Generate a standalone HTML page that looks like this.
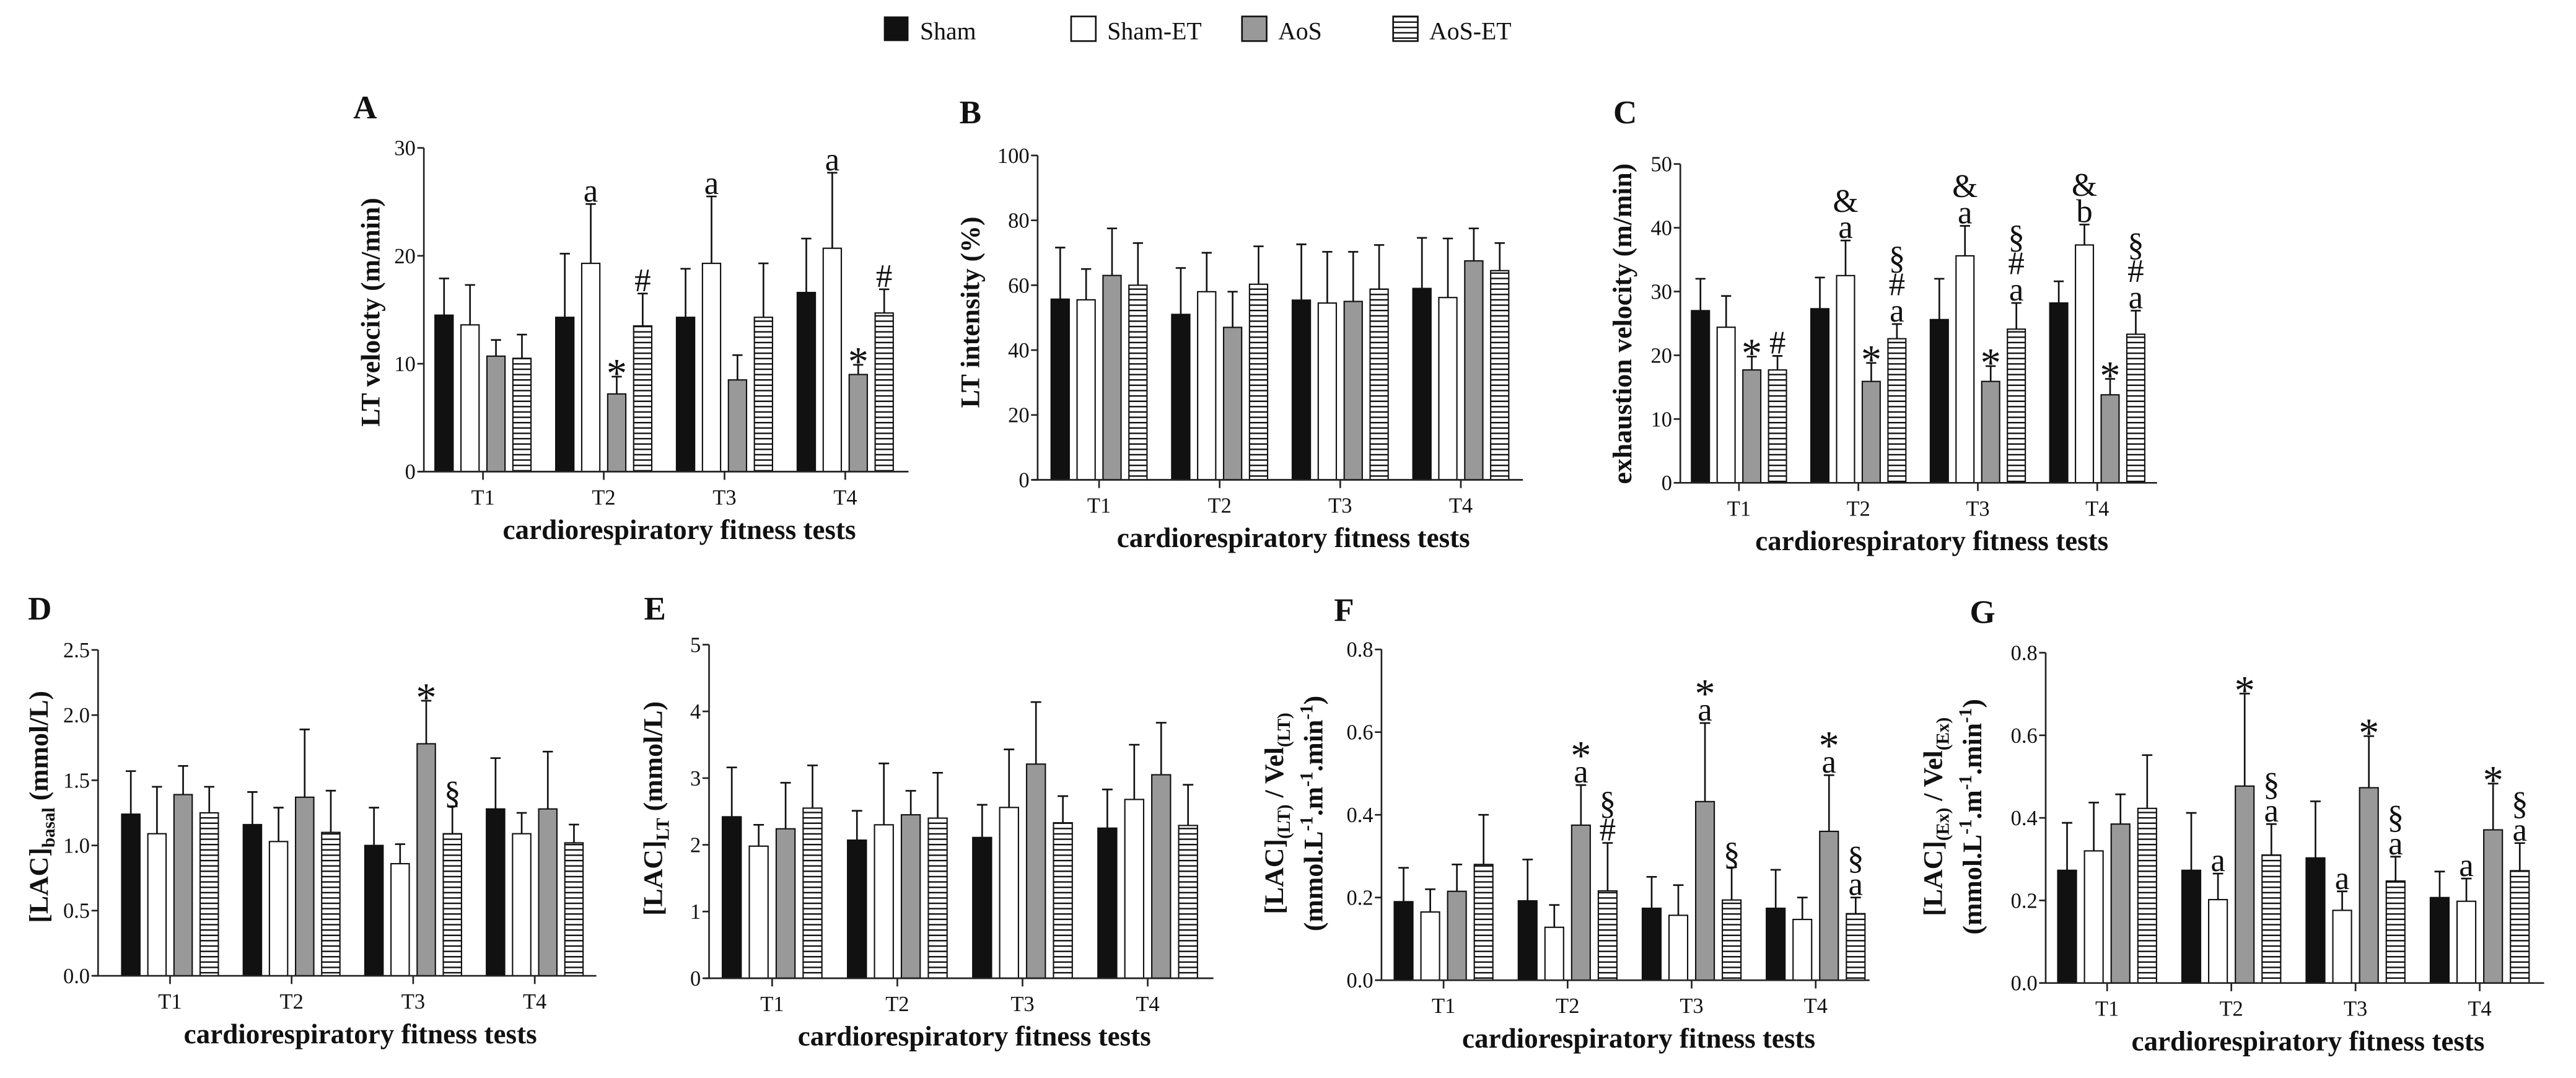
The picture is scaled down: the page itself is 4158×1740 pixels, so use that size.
<!DOCTYPE html>
<html><head><meta charset="utf-8"><style>
html,body{margin:0;padding:0;background:#fff;}
svg{display:block;}
text{font-family:"Liberation Serif","Times New Roman","DejaVu Serif",serif;fill:#111;}
</style></head><body>
<svg id="fig" width="4158" height="1740" viewBox="0 0 1568 656" preserveAspectRatio="none" font-family="Liberation Serif, DejaVu Serif, serif" xmlns="http://www.w3.org/2000/svg">
<defs>
<pattern id="hatch" patternUnits="userSpaceOnUse" width="6" height="3.25">
<rect width="6" height="3.25" fill="#fff"/><rect y="0" width="6" height="0.9" fill="#111"/>
</pattern>
</defs>
<g>
<rect x="538" y="10" width="15" height="15" fill="#111"/>
<text x="560" y="24" font-size="15">Sham</text>
<rect x="652" y="10" width="15" height="15" fill="#fff" stroke="#111"/>
<text x="674" y="24" font-size="15">Sham-ET</text>
<rect x="756" y="10" width="15" height="15" fill="#999" stroke="#111"/>
<text x="778" y="24" font-size="15">AoS</text>
<rect x="848" y="10" width="15" height="15" fill="url(#hatch)" stroke="#111"/>
<text x="870" y="24" font-size="15">AoS-ET</text>
</g>
</svg>
<script>
// ---- data ----
const categories = ['T1','T2','T3','T4'];
const seriesNames = ['Sham','Sham-ET','AoS','AoS-ET'];

const A_sham = [14.5,14.3,14.3,16.6], A_shamEt = [13.6,19.3,19.3,20.7], A_aos = [10.7,7.2,8.5,9.0], A_aosEt = [10.5,13.5,14.3,14.7];
const A_shamTop = [17.9,20.2,18.8,21.6], A_shamEtTop = [17.3,24.8,25.5,27.7], A_aosTop = [12.2,8.8,10.8,9.9], A_aosEtTop = [12.7,16.5,19.3,16.9];
const A_ticks = [0,10,20,30];
const A_tickLabels = ['0','10','20','30'];

const B_sham = [55.7,51,55.4,59], B_shamEt = [55.5,58,54.5,56.2], B_aos = [63,47,55,67.5], B_aosEt = [60,60.3,58.8,64.5];
const B_shamTop = [71.6,65.3,72.6,74.6], B_shamEtTop = [65,70,70.3,74.4], B_aosTop = [77.5,58,70.3,77.5], B_aosEtTop = [73,72,72.4,73];
const B_ticks = [0,20,40,60,80,100];
const B_tickLabels = ['0','20','40','60','80','100'];

const C_sham = [27,27.3,25.6,28.2], C_shamEt = [24.4,32.5,35.6,37.3], C_aos = [17.7,15.9,15.9,13.8], C_aosEt = [17.7,22.6,24.1,23.3];
const C_shamTop = [32,32.2,32,31.6], C_shamEtTop = [29.3,38,40.3,40.5], C_aosTop = [19.8,18.8,18.3,16.3], C_aosEtTop = [19.9,24.9,28.2,27];
const C_ticks = [0,10,20,30,40,50];
const C_tickLabels = ['0','10','20','30','40','50'];

const D_sham = [1.24,1.16,1.00,1.28], D_shamEt = [1.09,1.03,0.86,1.09], D_aos = [1.39,1.37,1.78,1.28], D_aosEt = [1.25,1.10,1.09,1.02];
const D_shamTop = [1.57,1.41,1.29,1.67], D_shamEtTop = [1.45,1.29,1.01,1.25], D_aosTop = [1.61,1.89,2.11,1.72], D_aosEtTop = [1.45,1.42,1.30,1.16];
const D_ticks = [0,0.5,1,1.5,2,2.5];
const D_tickLabels = ['0.0','0.5','1.0','1.5','2.0','2.5'];

const E_sham = [2.42,2.07,2.11,2.25], E_shamEt = [1.98,2.30,2.56,2.68], E_aos = [2.24,2.45,3.21,3.05], E_aosEt = [2.55,2.40,2.33,2.29];
const E_shamTop = [3.16,2.51,2.60,2.83], E_shamEtTop = [2.30,3.22,3.43,3.50], E_aosTop = [2.93,2.81,4.14,3.83], E_aosEtTop = [3.19,3.08,2.73,2.90];
const E_ticks = [0,1,2,3,4,5];
const E_tickLabels = ['0','1','2','3','4','5'];

const F_sham = [0.19,0.192,0.174,0.174], F_shamEt = [0.165,0.128,0.157,0.147], F_aos = [0.215,0.375,0.432,0.36], F_aosEt = [0.28,0.216,0.194,0.161];
const F_shamTop = [0.272,0.292,0.25,0.267], F_shamEtTop = [0.22,0.182,0.23,0.2], F_aosTop = [0.28,0.472,0.622,0.496], F_aosEtTop = [0.4,0.332,0.273,0.2];
const F_ticks = [0,0.2,0.4,0.6,0.8];
const F_tickLabels = ['0.0','0.2','0.4','0.6','0.8'];

const G_sham = [0.273,0.273,0.303,0.207], G_shamEt = [0.32,0.202,0.176,0.198], G_aos = [0.385,0.477,0.473,0.371], G_aosEt = [0.423,0.31,0.247,0.272];
const G_shamTop = [0.388,0.412,0.44,0.27], G_shamEtTop = [0.437,0.265,0.222,0.253], G_aosTop = [0.457,0.701,0.598,0.483], G_aosEtTop = [0.552,0.385,0.306,0.339];
const G_ticks = [0,0.2,0.4,0.6,0.8];
const G_tickLabels = ['0.0','0.2','0.4','0.6','0.8'];

// annotations: [group, series, labels bottom-to-top]
const A_ann = [[1,1,['a']],[1,2,['*']],[1,3,['#']],[2,1,['a']],[3,1,['a']],[3,2,['*']],[3,3,['#']]];
const B_ann = [];
const C_ann = [[0,2,['*']],[0,3,['#']],[1,1,['a','&']],[1,2,['*']],[1,3,['a','#','§']],[2,1,['a','&']],[2,2,['*']],[2,3,['a','#','§']],[3,1,['b','&']],[3,2,['*']],[3,3,['a','#','§']]];
const D_ann = [[2,2,['*']],[2,3,['§']]];
const E_ann = [];
const F_ann = [[1,2,['a','*']],[1,3,['#','§']],[2,2,['a','*']],[2,3,['§']],[3,2,['a','*']],[3,3,['a','§']]];
const G_ann = [[1,1,['a']],[1,2,['*']],[1,3,['a','§']],[2,1,['a']],[2,2,['*']],[2,3,['a','§']],[3,1,['a']],[3,2,['*']],[3,3,['a','§']]];

// ---- layout (pixel geometry, not data) ----
const layout = [
 {id:'A',lx:215,ly:72,ax:258,yTop:90,y0:287,max:30,t1:294,sp:73.5,end:553,means:[A_sham,A_shamEt,A_aos,A_aosEt],tops:[A_shamTop,A_shamEtTop,A_aosTop,A_aosEtTop],ticks:A_ticks,tl:A_tickLabels,ann:A_ann,title:[['LT velocity (m/min)']],tx:[231],ty:190},
 {id:'B',lx:584,ly:75,ax:631.6,yTop:94.6,y0:292,max:100,t1:669,sp:73.4,end:927,means:[B_sham,B_shamEt,B_aos,B_aosEt],tops:[B_shamTop,B_shamEtTop,B_aosTop,B_aosEtTop],ticks:B_ticks,tl:B_tickLabels,ann:B_ann,title:[['LT intensity (%)']],tx:[596],ty:190},
 {id:'C',lx:982,ly:75,ax:1022.8,yTop:99.8,y0:293.8,max:50,t1:1058.5,sp:72.7,end:1313,means:[C_sham,C_shamEt,C_aos,C_aosEt],tops:[C_shamTop,C_shamEtTop,C_aosTop,C_aosEtTop],ticks:C_ticks,tl:C_tickLabels,ann:C_ann,title:[['exhaustion velocity (m/min)']],tx:[993],ty:197},
 {id:'D',lx:17,ly:377,ax:59.7,yTop:395.5,y0:593.8,max:2.5,t1:103.5,sp:74,end:363,means:[D_sham,D_shamEt,D_aos,D_aosEt],tops:[D_shamTop,D_shamEtTop,D_aosTop,D_aosEtTop],ticks:D_ticks,tl:D_tickLabels,ann:D_ann,title:[['[LAC]',['basal','sub'],' (mmol/L)']],tx:[29],ty:491},
 {id:'E',lx:392,ly:377,ax:431.6,yTop:392.3,y0:595.3,max:5,t1:470,sp:76.2,end:738.6,means:[E_sham,E_shamEt,E_aos,E_aosEt],tops:[E_shamTop,E_shamEtTop,E_aosTop,E_aosEtTop],ticks:E_ticks,tl:E_tickLabels,ann:E_ann,title:[['[LAC]',['LT','sub'],' (mmol/L)']],tx:[403],ty:492},
 {id:'F',lx:812,ly:378,ax:840.9,yTop:395.2,y0:596.5,max:0.8,t1:878.7,sp:75.5,end:1138,means:[F_sham,F_shamEt,F_aos,F_aosEt],tops:[F_shamTop,F_shamEtTop,F_aosTop,F_aosEtTop],ticks:F_ticks,tl:F_tickLabels,ann:F_ann,title:[['[LAC]',['(LT)','sub'],' / Vel',['(LT)','sub']],['(mmol.L',['-1','sup'],'.m',['-1','sup'],'.min',['-1','sup'],')']],tx:[781,805],ty:495},
 {id:'G',lx:1199,ly:379,ax:1245.2,yTop:397.2,y0:598.2,max:0.8,t1:1282.6,sp:75.6,end:1548.6,means:[G_sham,G_shamEt,G_aos,G_aosEt],tops:[G_shamTop,G_shamEtTop,G_aosTop,G_aosEtTop],ticks:G_ticks,tl:G_tickLabels,ann:G_ann,title:[['[LAC]',['(Ex)','sub'],' / Vel',['(Ex)','sub']],['(mmol.L',['-1','sup'],'.m',['-1','sup'],'.min',['-1','sup'],')']],tx:[1182,1206],ty:497}
];
const fills = ['#111','#fff','#999','url(#hatch)'];

const NS='http://www.w3.org/2000/svg';
const svg=document.getElementById('fig');
function mk(tag,attrs,parent){const e=document.createElementNS(NS,tag);for(const k in attrs)e.setAttribute(k,attrs[k]);(parent||svg).appendChild(e);return e;}

layout.forEach(p=>{
  const g=mk('g',{});
  
  
  const yScale=v=>p.y0-(v/p.max)*(p.y0-p.yTop);
  const xCenter=(gi,si)=>p.t1+gi*p.sp+(si-1.5)*p.sp*0.215;
  const bw=p.sp*0.15;
  const lab=mk('text',{x:p.lx,y:p.ly,'font-size':20,'font-weight':'bold'},g);lab.textContent=p.id;
  
  
  // bars
  p.means.forEach((arr,si)=>{arr.forEach((v,gi)=>{
    const cx=xCenter(gi,si), top=p.tops[si][gi];
    const eb=mk('path',{d:`M${cx} ${yScale(v)}V${yScale(top)}M${cx-bw*0.28} ${yScale(top)}H${cx+bw*0.28}`,stroke:'#111','stroke-width':1,fill:'none'},g);
    
    
    const r=mk('rect',{x:cx-bw/2,y:yScale(v),width:bw,height:p.y0-yScale(v),fill:fills[si],stroke:'#111','stroke-width':0.8},g);
    
    
  });});
  // annotations
  p.ann.forEach(a=>{
    const [gi,si,labels]=a; const cx=xCenter(gi,si); let y=yScale(p.tops[si][gi])-1.5;
    labels.forEach(t=>{
      const isStar=t==='*';
      const tt=mk('text',{x:cx,y:isStar?y+8:y,'text-anchor':'middle','font-size':isStar?25:20},g);tt.textContent=t;
      
      
      y-=16;
    });
  });
  // axes
  const ya=mk('path',{d:`M${p.ax} ${p.yTop}V${p.y0}`,stroke:'#222','stroke-width':1,fill:'none'},g);
  
  
  const xa=mk('path',{d:`M${p.ax-3} ${p.y0}H${p.end}`,stroke:'#222','stroke-width':1,fill:'none'},g);
  
  
  p.ticks.forEach((v,i)=>{
    const y=yScale(v);
    mk('path',{d:`M${p.ax-4} ${y}H${p.ax}`,stroke:'#222','stroke-width':1},g);
    const t=mk('text',{x:p.ax-5,y:y+4.5,'text-anchor':'end','font-size':13,fill:'#222'},g);t.textContent=p.tl[i];
    
    
  });
  categories.forEach((c,gi)=>{
    const x=p.t1+gi*p.sp;
    mk('path',{d:`M${x} ${p.y0}V${p.y0+5}`,stroke:'#222','stroke-width':1},g);
    const t=mk('text',{x:x,y:p.y0+20,'text-anchor':'middle','font-size':13,fill:'#222'},g);t.textContent=c;
    
    
  });
  const xt=mk('text',{x:(p.ax+p.end)/2+8,y:p.y0+41,'text-anchor':'middle','font-size':17,'font-weight':'bold'},g);
  xt.textContent='cardiorespiratory fitness tests';
  
  
  // y title
  p.title.forEach((line,li)=>{
    const t=mk('text',{transform:`translate(${p.tx[li]},${p.ty}) rotate(-90)`,'text-anchor':'middle','font-size':16.5,'font-weight':'bold'},g);
    
    
    line.forEach(part=>{
      const ts=document.createElementNS(NS,'tspan');
      if(typeof part==='string'){ts.textContent=part;}
      else{ts.textContent=part[0];ts.setAttribute('font-size','11');ts.setAttribute('baseline-shift',part[1]==='sub'?'-4':'6');}
      t.appendChild(ts);
    });
  });
});
</script>
</body></html>
